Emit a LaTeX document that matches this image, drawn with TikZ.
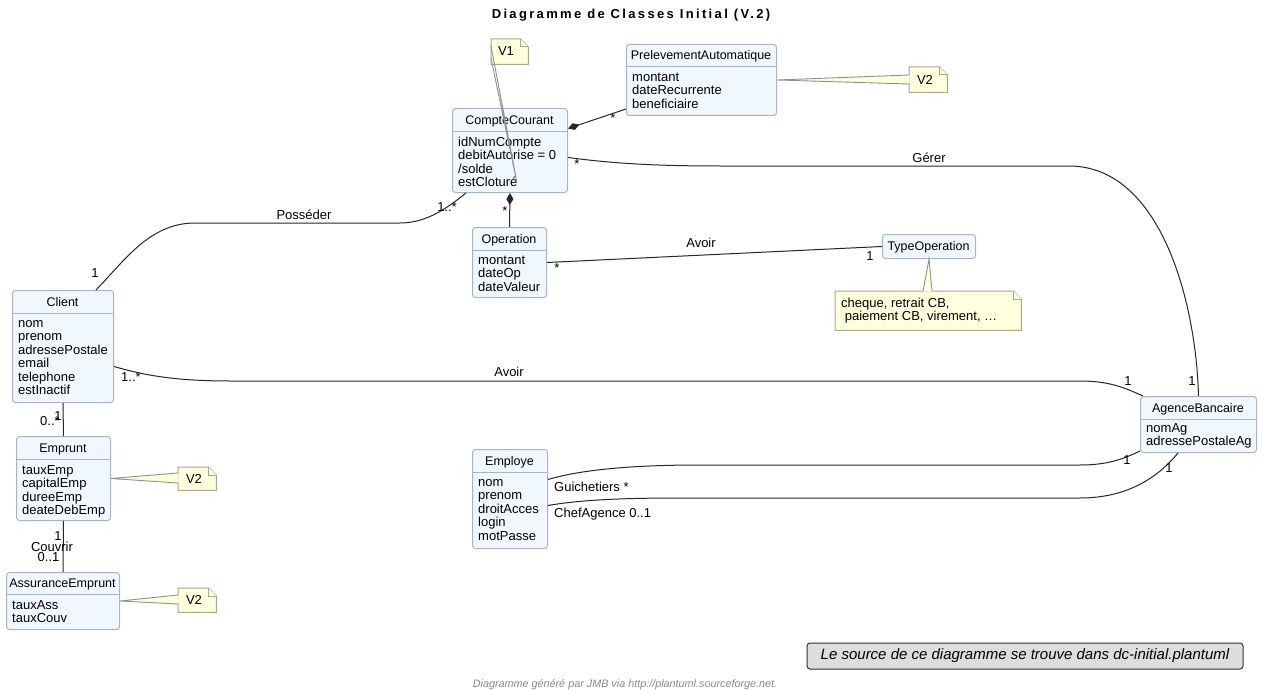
\documentclass[tikz,border=0pt]{standalone}
\usepackage{fontspec}
\setmainfont{Liberation Sans}
\newfontfamily\titlefont[LetterSpace=18]{Liberation Sans}
\usetikzlibrary{arrows.meta}
\definecolor{clsfill}{HTML}{F1F7FE}
\definecolor{clsborder}{HTML}{A5B5C5}
\definecolor{notefill}{HTML}{FEFFDD}
\definecolor{noteborder}{HTML}{A8A890}
\definecolor{wedgeline}{HTML}{909090}
\definecolor{legendfill}{HTML}{DDDDDD}
\definecolor{footgray}{HTML}{888888}
\tikzset{
  cls/.style={draw=clsborder, fill=clsfill, rounded corners=3pt, line width=1pt, inner sep=0pt, anchor=north west},
  divline/.style={draw=clsborder, line width=1pt},
  hdr/.style={font=\fontsize{12.5}{14}\selectfont, inner sep=0pt, anchor=base},
  attr/.style={font=\fontsize{13}{13.5}\selectfont, align=left, inner sep=0pt, anchor=north west},
  lbl/.style={font=\fontsize{13}{15}\selectfont, inner sep=0pt},
  conn/.style={line width=1pt, draw=black!85},
  notebox/.style={inner sep=0pt, anchor=north west},
  noteshape/.style={draw=noteborder, fill=notefill, line width=1pt},
  notetxt/.style={font=\fontsize{13}{13.5}\selectfont, inner sep=0pt},
  wedge/.style={draw=wedgeline, line width=0.9pt},
}
\begin{document}
\begin{tikzpicture}[x=1pt,y=-1pt]
\useasboundingbox (0,0) rectangle (1263,690);

% Title
\node[font=\titlefont\bfseries\fontsize{13}{15}\selectfont, inner sep=0pt] (title) at (631,15) {Diagramme de Classes Initial (V.2)};

% ---------- Classes ----------
% CompteCourant
\node[cls, minimum width=115, minimum height=84] (cc) at (452,108) {};
\draw[divline] (452,132) -- (567,132);
\node[hdr] (cch) at (509.5,124.5) {CompteCourant};
\node[attr] (cca) at (458,136.5) {\strut idNumCompte\\debitAutorise = 0\\/solde\\estCloturé};

% PrelevementAutomatique
\node[cls, minimum width=150, minimum height=71] (pa) at (626,44) {};
\draw[divline] (626,67) -- (776,67);
\node[hdr] (pah) at (701,60) {PrelevementAutomatique};
\node[attr] (paa) at (632,71.5) {\strut montant\\dateRecurrente\\beneficiaire};

% Operation
\node[cls, minimum width=74, minimum height=70] (op) at (472,227) {};
\draw[divline] (472,250) -- (546,250);
\node[hdr] (oph) at (509,243) {Operation};
\node[attr] (opa) at (478,254.5) {\strut montant\\dateOp\\dateValeur};

% TypeOperation
\node[cls, minimum width=93, minimum height=24] (typ) at (882,234) {};
\node[hdr] (typh) at (928.5,250.5) {TypeOperation};

% Client
\node[cls, minimum width=101, minimum height=112] (client) at (12,290) {};
\draw[divline] (12,313) -- (113,313);
\node[hdr] (clienth) at (62.5,306) {Client};
\node[attr] (clienta) at (18,317.5) {\strut nom\\prenom\\adressePostale\\email\\telephone\\estInactif};

% Emprunt
\node[cls, minimum width=94, minimum height=84] (emp) at (16,436) {};
\draw[divline] (16,459) -- (110,459);
\node[hdr] (emph) at (63,452) {Emprunt};
\node[attr] (empa) at (22,464.5) {\strut tauxEmp\\capitalEmp\\dureeEmp\\deateDebEmp};

% AssuranceEmprunt
\node[cls, minimum width=113, minimum height=57] (ass) at (6,572) {};
\draw[divline] (6,594) -- (119,594);
\node[hdr] (assh) at (62.5,587.5) {AssuranceEmprunt};
\node[attr] (assa) at (12,599.5) {\strut tauxAss\\tauxCouv};

% AgenceBancaire
\node[cls, minimum width=116, minimum height=56] (ag) at (1140,396) {};
\draw[divline] (1140,419) -- (1256,419);
\node[hdr] (agh) at (1198,412) {AgenceBancaire};
\node[attr] (aga) at (1146,422.5) {\strut nomAg\\adressePostaleAg};

% Employe
\node[cls, minimum width=75, minimum height=99] (emy) at (472,449) {};
\draw[divline] (472,472) -- (547,472);
\node[hdr] (emyh) at (509.5,465) {Employe};
\node[attr] (emya) at (478,476.5) {\strut nom\\prenom\\droitAcces\\login\\motPasse};

% ---------- Notes ----------
% V1
\node[notebox, minimum width=37, minimum height=25] (v1) at (491,39) {};
\draw[noteshape] (v1.north west) -- ([xshift=-8pt]v1.north east) -- ([yshift=-8pt]v1.north east) -- (v1.south east) -- (v1.south west) -- cycle;
\draw[noteshape] ([xshift=-8pt]v1.north east) |- ([yshift=-8pt]v1.north east);
\node[notetxt] (v1t) at (506,51.5) {V1};

% V2 (Prelevement)
\node[notebox, minimum width=38, minimum height=25] (v2a) at (909,67) {};
\draw[noteshape] (v2a.north west) -- ([xshift=-8pt]v2a.north east) -- ([yshift=-8pt]v2a.north east) -- (v2a.south east) -- (v2a.south west) -- cycle;
\draw[noteshape] ([xshift=-8pt]v2a.north east) |- ([yshift=-8pt]v2a.north east);
\node[notetxt] (v2at) at (925,79.5) {V2};
\fill[notefill] (pa.east) -- (909.6,75) -- (909.6,84) -- cycle;
\draw[wedge] (909,75) -- (pa.east) -- (909,84);

% V2 (Emprunt)
\node[notebox, minimum width=38, minimum height=23] (v2b) at (178,467) {};
\draw[noteshape] (v2b.north west) -- ([xshift=-8pt]v2b.north east) -- ([yshift=-8pt]v2b.north east) -- (v2b.south east) -- (v2b.south west) -- cycle;
\draw[noteshape] ([xshift=-8pt]v2b.north east) |- ([yshift=-8pt]v2b.north east);
\node[notetxt] (v2bt) at (194,478.5) {V2};
\fill[notefill] (emp.east) -- (178.6,473) -- (178.6,483) -- cycle;
\draw[wedge] (178,473) -- (emp.east) -- (178,483);

% V2 (Assurance)
\node[notebox, minimum width=38, minimum height=24] (v2c) at (178,588) {};
\draw[noteshape] (v2c.north west) -- ([xshift=-8pt]v2c.north east) -- ([yshift=-8pt]v2c.north east) -- (v2c.south east) -- (v2c.south west) -- cycle;
\draw[noteshape] ([xshift=-8pt]v2c.north east) |- ([yshift=-8pt]v2c.north east);
\node[notetxt] (v2ct) at (194,600) {V2};
\fill[notefill] (ass.east) -- (178.6,595) -- (178.6,604) -- cycle;
\draw[wedge] (178,595) -- (ass.east) -- (178,604);

% TypeOperation note
\node[notebox, minimum width=186, minimum height=39] (tnote) at (835,291) {};
\draw[noteshape] (tnote.north west) -- ([xshift=-8pt]tnote.north east) -- ([yshift=-8pt]tnote.north east) -- (tnote.south east) -- (tnote.south west) -- cycle;
\draw[noteshape] ([xshift=-8pt]tnote.north east) |- ([yshift=-8pt]tnote.north east);
\node[attr] (tnotet) at (841,297.5) {\strut cheque, retrait CB,\\\hspace*{3.6pt}paiement CB, virement, …};
\fill[notefill] (typ.south) -- (923,291.6) -- (932,291.6) -- cycle;
\draw[wedge] (923,291) -- (typ.south) -- (932,291);

% ---------- Connectors ----------
% Posseder
\draw[conn] ([xshift=84pt]client.north west) .. controls (125,260) and (150,223) .. (195,223) -- (400,223) .. controls (425,223) and (445,210) .. ([xshift=14pt]cc.south west);
\node[lbl] (l1) at (95,273) {1};
\node[lbl] (l2) at (304,215) {Posséder};
\node[lbl] (l3) at (447,207) {1..*};

% CompteCourant -- Prelevement (composition)
\draw[conn, {Diamond[length=12pt,width=7pt]}-] ([yshift=22pt]cc.east) -- ([yshift=7pt]pa.south west);
\node[lbl] (l4) at (613,118) {*};

% CompteCourant -- Operation (composition)
\draw[conn, {Diamond[length=12pt,width=7pt]}-] (cc.south) -- (op.north);
\node[lbl] (l5) at (505,211) {*};

% Gerer
\draw[conn] ([yshift=-7pt]cc.east) .. controls (610,163) and (650,166) .. (720,166) -- (1070,166) .. controls (1160,167) and (1196,300) .. (ag.north);
\node[lbl] (l6) at (577,164) {*};
\node[lbl] (l7) at (929,158) {Gérer};
\node[lbl] (l8) at (1192,381) {1};

% Operation -- TypeOperation
\draw[conn] (op.east) -- (typ.west);
\node[lbl] (l9) at (557,268) {*};
\node[lbl] (l10) at (701,243) {Avoir};
\node[lbl] (l11) at (870,256) {1};

% Client -- Agence (Avoir)
\draw[conn] ([yshift=-20pt]client.east) .. controls (140,374) and (170,381) .. (230,381) -- (1080,381) .. controls (1110,381) and (1125,388) .. ([xshift=3pt]ag.north west);
\node[lbl] (l12) at (131,377) {1..*};
\node[lbl] (l13) at (509,372) {Avoir};
\node[lbl] (l14) at (1128,381) {1};

% Client -- Emprunt
\draw[conn] (client.south) -- (emp.north);
\node[lbl] (l15) at (50,421) {0..*};
\node[lbl] (l16) at (58,416) {1};

% Emprunt -- Assurance
\draw[conn] (emp.south) -- (ass.north);
\node[lbl] (l17) at (58,536) {1};
\node[lbl] (l18) at (52,547) {Couvrir};
\node[lbl] (l19) at (48.5,557) {0..1};

% Guichetiers
\draw[conn] ([yshift=19.5pt]emy.east) .. controls (580,470) and (630,465) .. (700,465) -- (1080,465) .. controls (1110,465) and (1125,458) .. ([yshift=2pt]ag.south west);
\node[lbl, anchor=west] (l20) at (554,487) {Guichetiers *};
\node[lbl] (l21) at (1127,460) {1};

% ChefAgence
\draw[conn] ([yshift=-6.5pt]emy.east) .. controls (580,500) and (620,498) .. (680,498) -- (1080,498) .. controls (1130,498) and (1160,475) .. ([xshift=38pt]ag.south west);
\node[lbl, anchor=west] (l22) at (554,514) {ChefAgence 0..1};
\node[lbl] (l23) at (1169,468) {1};

% V1 note link (drawn over CompteCourant)
\draw[wedge] (491,46) -- (517,183) -- (491,58);

% ---------- Legend & footer ----------
\node[draw=black!80, fill=legendfill, rounded corners=3pt, line width=1pt, minimum width=436, minimum height=26, inner sep=0pt, font=\itshape\fontsize{15}{17}\selectfont] (legend) at (1025,656) {Le source de ce diagramme se trouve dans dc-initial.plantuml};
\node[font=\itshape\fontsize{10.8}{12}\selectfont, text=footgray, inner sep=0pt] (footer) at (625,685) {Diagramme généré par JMB via http://plantuml.sourceforge.net.};
\end{tikzpicture}
\end{document}
